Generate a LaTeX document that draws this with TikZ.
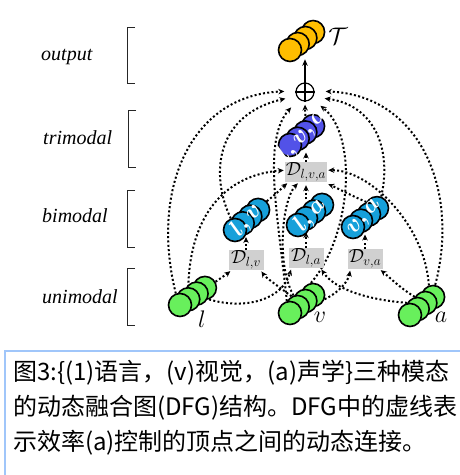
\RequirePackage{fix-cm}
\documentclass[tikz,border=0pt]{standalone}
\usepackage{fontspec}
\newfontfamily\cjkfont{Noto Sans CJK SC}
\newfontfamily\timesfont{Liberation Serif}
\usetikzlibrary{arrows.meta,backgrounds}
\definecolor{cgreen}{RGB}{104,240,92}
\definecolor{cblue}{RGB}{22,160,218}
\definecolor{cviolet}{RGB}{82,82,232}
\definecolor{corange}{RGB}{255,190,0}
\definecolor{cgray}{RGB}{208,208,208}
\definecolor{cborder}{RGB}{160,198,250}
\begin{document}
\begin{tikzpicture}[x=1pt,y=-1pt,
  ball/.style={circle,draw=black,line width=1.6pt,minimum size=23pt,inner sep=0pt},
  dbox/.style={fill=cgray,minimum width=35pt,minimum height=20pt,inner sep=0.5pt,font=\fontsize{19}{19}\selectfont},
  dotarrow/.style={line width=2pt,dash pattern=on 2pt off 2.3pt,-{Stealth[length=6pt,width=5.5pt]},shorten >=1.5pt},
  solidarrow/.style={line width=1.4pt,-{Stealth[length=6.5pt,width=5.5pt]},shorten >=3pt},
  bracket/.style={line width=1pt,draw=black!85},
  levellabel/.style={font=\timesfont\itshape\fontsize{20}{20}\selectfont,anchor=base west,inner sep=0pt},
  inner/.style={text=white,rotate=50,inner sep=0pt,font=\fontsize{24}{24}\selectfont\boldmath},
  modlabel/.style={anchor=base,inner sep=0pt,font=\fontsize{24}{24}\selectfont},
  captext/.style={font=\cjkfont\fontsize{24}{24}\selectfont,anchor=base west,inner sep=0pt}
]
\useasboundingbox (0,0) rectangle (460,475);

% level labels and brackets
\node[levellabel] (lab-out) at (41,60) {output};
\node[levellabel] (lab-tri) at (43,144) {trimodal};
\node[levellabel] (lab-bi) at (42,222) {bimodal};
\node[levellabel] (lab-uni) at (42,303) {unimodal};
\draw[bracket] (135,27) -- (127,27) -- (127,83) -- (135,83);
\draw[bracket] (136,110) -- (128,110) -- (128,167) -- (136,167);
\draw[bracket] (135,190) -- (127,190) -- (127,247) -- (135,247);
\draw[bracket] (135,268) -- (127,268) -- (127,325) -- (135,325);

% stacks
\foreach \i in {4,3,2,1} {
  \node[ball,fill=corange] (T-\i) at ({290+7.7*(\i-1)},{50-6*(\i-1)}) {};
  \node[ball,fill=cviolet] (lva-\i) at ({290+7.7*(\i-1)},{145-6.3*(\i-1)}) {};
  \node[ball,fill=cblue] (lv-\i) at ({235+7.7*(\i-1)},{230-6.7*(\i-1)}) {};
  \node[ball,fill=cblue] (la-\i) at ({298+8*(\i-1)},{225-6.7*(\i-1)}) {};
  \node[ball,fill=cblue] (va-\i) at ({353+8*(\i-1)},{227-6.3*(\i-1)}) {};
  \node[ball,fill=cgreen] (l-\i) at ({180+8.3*(\i-1)},{305-5.7*(\i-1)}) {};
  \node[ball,fill=cgreen] (v-\i) at ({290+7.7*(\i-1)},{313-6*(\i-1)}) {};
  \node[ball,fill=cgreen] (a-\i) at ({410+7.7*(\i-1)},{315-6*(\i-1)}) {};
}
\node[inner] (t-lva) at (302,135) {$l,v,a$};
\node[inner] (t-lv) at (246.5,220) {$l,v$};
\node[inner] (t-la) at (310,215) {$l,a$};
\node[inner] (t-va) at (365,217.5) {$v,a$};

\node[modlabel] (lab-T) at (338,44) {$\mathcal{T}$};
\node[modlabel] (lab-l) at (202,327) {$l$};
\node[modlabel] (lab-v) at (320,322) {$v$};
\node[modlabel] (lab-a) at (441,322) {$a$};

% efficacy boxes
\node[dbox] (Dlv) at (246,260) {$\mathcal{D}_{l,v}$};
\node[dbox] (Dla) at (306,258) {$\mathcal{D}_{l,a}$};
\node[dbox] (Dva) at (365,259) {$\mathcal{D}_{v,a}$};
\node[dbox] (Dlva) at (306,172) {$\mathcal{D}_{l,v,a}$};

% oplus
\node[circle,minimum size=38pt,inner sep=0pt] (oplus) at (305,92) {};
\node[circle,draw=black,line width=1.2pt,minimum size=18pt,inner sep=0pt] (osym) at (305,92) {};
\draw[line width=1.2pt] (osym.north) -- (osym.south) (osym.west) -- (osym.east);
\draw[solidarrow] (osym.north) -- (osym.north |- T-2.south);

\begin{pgfonlayer}{background}
\fill[white] (0,0) rectangle (460,475);
% unimodal -> bimodal efficacies
\draw[dotarrow] (l-4.30) .. controls (222,278) .. (Dlv.-145);
\draw[dotarrow] (l-4.-70) .. controls (245,310) and (282,300) .. (Dla.-145);
\draw[dotarrow] (v-2.120) .. controls (278,286) and (266,278) .. (Dlv.-35);
\draw[dotarrow] (v-4.-20) .. controls (338,293) and (348,282) .. (Dva.-145);
\draw[dotarrow] (a-2.150) .. controls (370,300) and (335,290) .. (Dla.-35);
\draw[dotarrow] (a-3.150) .. controls (400,288) and (388,276) .. (Dva.-35);
% efficacies -> vertices
\draw[dotarrow] (Dlv.north) -- (Dlv.north |- lv-2.south);
\draw[dotarrow] (Dla.north) -- (Dla.north |- la-2.south);
\draw[dotarrow] (Dva.north) -- (Dva.north |- va-2.south);
\draw[dotarrow] (Dlva.north) -- (Dlva.north |- lva-2.south);
% into trimodal efficacy
\draw[dotarrow] (l-2.north) .. controls (190,215) and (225,175) .. (Dlva.175);
\draw[dotarrow] (lv-4.45) .. controls (275,195) and (283,187) .. (Dlva.-150);
\draw[dotarrow] (v-2.110) .. controls (276,265) and (282,200) .. (Dlva.-125);
\draw[dotarrow,shorten >=3pt] (la-3.north -| Dlva.south) -- (Dlva.south);
\draw[dotarrow,shorten >=5pt] (va-4.150) .. controls (350,195) and (335,187) .. (Dlva.-30);
\draw[dotarrow] (a-4.110) .. controls (425,225) and (370,170) .. (Dlva.5);
% into oplus
\draw[dotarrow] (l-1.110) .. controls (150,190) and (190,95) .. (oplus.178);
\draw[dotarrow] (lv-1.110) .. controls (210,175) and (215,115) .. (oplus.199);
\draw[dotarrow] (v-1.105) .. controls (278,215) and (262,140) .. (oplus.228);
\draw[dotarrow,shorten >=3pt] (lva-3.north) -- (osym.south);
\draw[dotarrow] (v-4.100) .. controls (352,235) and (358,135) .. (oplus.-42);
\draw[dotarrow] (va-4.70) .. controls (392,150) and (375,105) .. (oplus.-19);
\draw[dotarrow] (a-4.80) .. controls (460,190) and (420,95) .. (oplus.2);
\end{pgfonlayer}

% caption
\draw[cborder,line width=1.5pt] (5,475) -- (5,351) -- (460,351);
\node[captext] (cap1) at (13,380) {图3:\{(1)语言，(v)视觉，(a)声学\}三种模态};
\node[captext] (cap2) at (13,415) {的动态融合图(DFG)结构。DFG中的虚线表};
\node[captext] (cap3) at (13,450) {示效率(a)控制的顶点之间的动态连接。};
\end{tikzpicture}
\end{document}
